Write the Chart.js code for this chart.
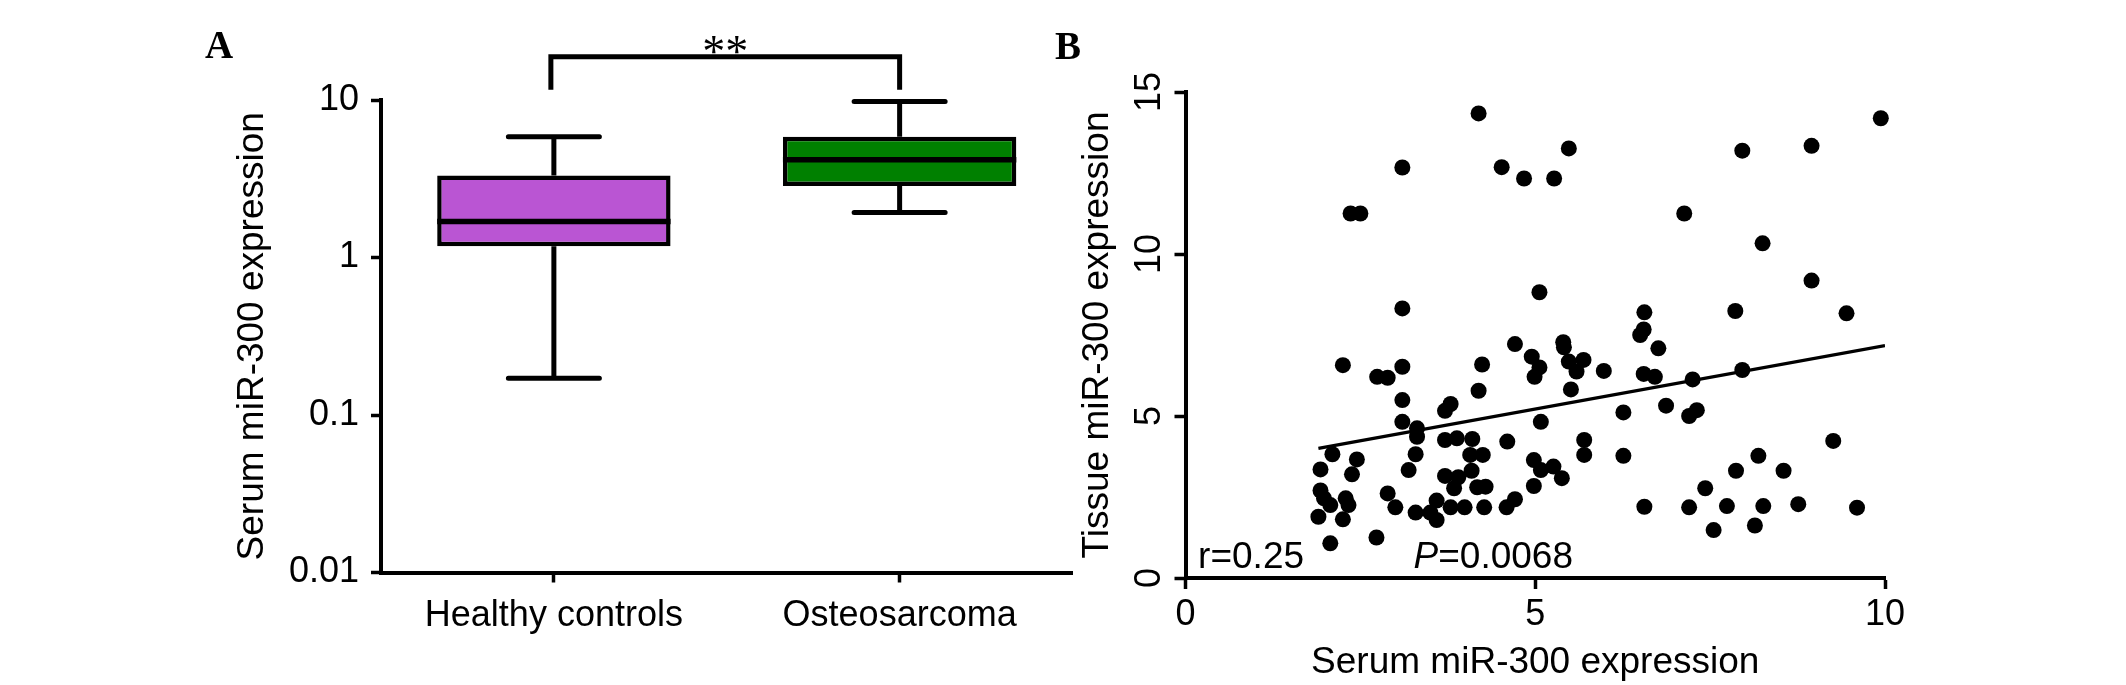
<!DOCTYPE html>
<html><head><meta charset="utf-8">
<script src="https://cdn.jsdelivr.net/npm/chart.js@4.4.1/dist/chart.umd.min.js"></script>
<style>
html,body{margin:0;padding:0;background:#fff;width:2126px;height:685px;overflow:hidden}
#wa{position:absolute;left:0;top:0;width:1100px;height:685px}
#wb{position:absolute;left:1040px;top:0;width:1086px;height:685px}
canvas{display:block}
</style></head><body>
<div id="wa"><canvas id="ca" width="1100" height="685"></canvas></div>
<div id="wb"><canvas id="cb" width="1086" height="685"></canvas></div>
<script>
// ---------- Panel A data (box plot, log scale) ----------
const groups = ['Healthy controls', 'Osteosarcoma'];
const whiskerLow  = [0.171, 1.93];
const boxLow      = [1.18, 2.84];
const medians     = [1.69, 4.18];
const boxHigh     = [3.32, 5.84];
const whiskerHigh = [5.85, 9.77];
const boxColors   = ['#BA55D3', '#008000'];
const logTicks      = [0.01, 0.1, 1, 10];
const logTickLabels = ['0.01', '0.1', '1', '10'];
const bracketLegLow = 11.6;
const bracketLevel  = 18.8;
const signifText    = '**';

// ---------- Panel B data (scatter) ----------
const serumX = [
  4.19,3.10,4.52,2.36,2.50,3.10,2.25,2.74,2.89,3.10,4.24,3.10,4.19,3.79,3.71,3.10,3.31,3.31,
  2.10,2.45,1.93,2.38,3.29,3.19,3.71,3.88,4.10,4.07,4.25,3.71,3.90,3.84,4.09,4.17,4.29,
  1.93,1.98,2.07,2.29,2.33,1.90,2.25,2.89,3.00,3.29,3.59,3.50,3.59,3.79,3.99,4.27,2.07,2.73,
  4.84,5.27,5.48,7.13,5.06,6.56,6.55,6.50,6.76,4.71,4.95,5.06,4.99,5.40,5.41,5.48,5.59,5.69,
  5.98,5.51,6.55,6.71,7.25,6.26,6.87,7.20,7.31,5.08,4.60,5.70,5.70,6.26,4.98,5.08,5.26,5.38,
  4.98,4.59,4.71,6.56,7.20,
  9.94,7.96,8.95,8.25,8.95,7.86,9.45,7.96,9.26,8.19,7.87,8.55,7.43,7.74,8.26,8.76,9.60,7.55,8.14
];
const tissueY = [
  14.34,12.67,12.68,11.25,11.25,8.32,6.57,6.21,6.18,6.52,6.59,5.49,5.78,5.37,5.16,4.82,4.62,4.36,
  3.82,3.66,3.35,3.20,3.82,3.33,4.26,4.31,4.29,3.80,3.80,3.15,3.11,2.77,3.31,2.80,2.82,
  2.70,2.46,2.25,2.46,2.25,1.89,1.81,2.61,2.18,2.02,2.39,2.02,1.79,2.18,2.18,2.18,1.07,1.25,
  12.33,12.33,13.26,11.25,8.82,8.20,7.67,7.50,7.09,7.22,6.83,6.50,6.21,7.28,7.12,6.68,6.37,6.73,
  6.39,5.82,6.30,6.21,6.13,5.11,5.32,5.00,5.18,4.82,4.21,4.26,3.80,3.77,3.64,3.33,3.44,3.08,
  2.84,2.18,2.43,2.20,2.18,
  14.19,13.19,13.34,10.33,9.18,8.24,8.17,6.42,4.23,3.77,3.31,3.31,2.77,2.22,2.22,2.28,2.17,1.48,1.62
];
const fitX = [1.9, 10];
const fitY = [4.0, 7.17];
const scatterTicksX = [0, 5, 10];
const scatterTicksY = [0, 5, 10, 15];
const statR = 'r=0.25';
const statPLetter = 'P';
const statPValue = '=0.0068';

const SANS = "'Liberation Sans', Arial, sans-serif";
const SERIF = "'Liberation Serif', 'Times New Roman', serif";

// ---------- Panel A plugin: whiskers, medians, bracket, letter ----------
const boxPlugin = {
  id: 'boxExtras',
  afterDatasetsDraw(chart) {
    const {ctx, scales: {x, y}} = chart;
    const meta = chart.getDatasetMeta(0);
    ctx.save();
    ctx.strokeStyle = '#000';
    ctx.lineCap = 'butt';
    groups.forEach((g, i) => {
      const cx = x.getPixelForValue(i);
      const half = meta.data[i].width / 2;
      const capHalf = half * 0.39;
      const yTop = y.getPixelForValue(boxHigh[i]);
      const yBot = y.getPixelForValue(boxLow[i]);
      const yWH = y.getPixelForValue(whiskerHigh[i]);
      const yWL = y.getPixelForValue(whiskerLow[i]);
      const yM = y.getPixelForValue(medians[i]);
      ctx.lineWidth = 5;
      ctx.beginPath();
      ctx.moveTo(cx, yTop); ctx.lineTo(cx, yWH);
      ctx.moveTo(cx, yBot); ctx.lineTo(cx, yWL);
      ctx.stroke();
      ctx.lineCap = 'round';
      ctx.beginPath();
      ctx.moveTo(cx - capHalf, yWH); ctx.lineTo(cx + capHalf, yWH);
      ctx.moveTo(cx - capHalf, yWL); ctx.lineTo(cx + capHalf, yWL);
      ctx.stroke();
      ctx.lineCap = 'butt';
      ctx.lineWidth = 5.5;
      ctx.beginPath();
      ctx.moveTo(cx - half, yM); ctx.lineTo(cx + half, yM);
      ctx.stroke();
    });
    // significance bracket
    const x0 = x.getPixelForValue(0) - 3, x1 = x.getPixelForValue(1);
    const yb = y.getPixelForValue(bracketLevel), yl = y.getPixelForValue(bracketLegLow);
    ctx.lineWidth = 5;
    ctx.lineJoin = 'miter';
    ctx.beginPath();
    ctx.moveTo(x0, yl); ctx.lineTo(x0, yb); ctx.lineTo(x1, yb); ctx.lineTo(x1, yl);
    ctx.stroke();
    ctx.fillStyle = '#000';
    ctx.font = '46px ' + SERIF;
    ctx.textAlign = 'center';
    ctx.textBaseline = 'alphabetic';
    ctx.fillText(signifText, (x0 + x1) / 2, yb + 10);
    // panel letter
    ctx.font = 'bold 39px ' + SERIF;
    ctx.textAlign = 'left';
    ctx.fillText('A', 205, 58);
    ctx.restore();
  }
};

new Chart(document.getElementById('ca'), {
  type: 'bar',
  data: {
    labels: groups,
    datasets: [{
      data: groups.map((g, i) => [boxLow[i], boxHigh[i]]),
      backgroundColor: boxColors,
      borderColor: '#000',
      borderWidth: 4.5,
      borderSkipped: false,
      barPercentage: 0.675,
      categoryPercentage: 1
    }]
  },
  options: {
    responsive: false, animation: false, devicePixelRatio: 1,
    events: [],
    layout: {padding: {left: 0, top: 100, right: 27.5, bottom: 0}},
    plugins: {legend: {display: false}, tooltip: {enabled: false}},
    scales: {
      x: {
        type: 'category', offset: true,
        grid: {display: true, offset: false, drawOnChartArea: false, drawTicks: true,
               tickLength: 10, tickWidth: 3.5, tickColor: '#000'},
        border: {display: true, color: '#000', width: 4},
        ticks: {color: '#000', font: {family: SANS, size: 36}, padding: 12, maxRotation: 0, minRotation: 0},
        afterFit(s) { s.height = 112.5; }
      },
      y: {
        type: 'logarithmic', min: 0.01, max: 10,
        afterBuildTicks(s) { s.ticks = logTicks.map(v => ({value: v})); },
        grid: {display: true, drawOnChartArea: false, drawTicks: true,
               tickLength: 10, tickWidth: 3.5, tickColor: '#000'},
        border: {display: true, color: '#000', width: 4},
        ticks: {
          color: '#000', font: {family: SANS, size: 36}, padding: 12,
          callback(v) {
            const i = logTicks.findIndex(t => Math.abs(Math.log10(t) - Math.log10(v)) < 1e-6);
            return i >= 0 ? logTickLabels[i] : '';
          }
        },
        title: {display: true, text: 'Serum miR-300 expression', color: '#000',
                font: {family: SANS, size: 37}, padding: {top: 231, bottom: 0}},
        afterFit(s) { s.width = 381; }
      }
    }
  },
  plugins: [boxPlugin]
});

// ---------- Panel B ----------
const scatterPlugin = {
  id: 'scatterExtras',
  afterDraw(chart) {
    const {ctx, scales: {x, y}} = chart;
    ctx.save();
    ctx.fillStyle = '#000';
    ctx.textBaseline = 'alphabetic';
    ctx.textAlign = 'left';
    const base = y.getPixelForValue(0) - 10;
    ctx.font = '37px ' + SANS;
    ctx.fillText(statR, x.getPixelForValue(0.18), base);
    const px = x.getPixelForValue(3.26);
    ctx.font = 'italic 37px ' + SANS;
    ctx.fillText(statPLetter, px, base);
    const w = ctx.measureText(statPLetter).width;
    ctx.font = '37px ' + SANS;
    ctx.fillText(statPValue, px + w, base);
    ctx.font = 'bold 39px ' + SERIF;
    ctx.fillText('B', 15, 59);
    ctx.restore();
  }
};

new Chart(document.getElementById('cb'), {
  type: 'scatter',
  data: {
    datasets: [
      {
        type: 'line',
        data: fitX.map((v, i) => ({x: v, y: fitY[i]})),
        borderColor: '#000', borderWidth: 3.2, pointRadius: 0, fill: false, tension: 0
      },
      {
        data: serumX.map((v, i) => ({x: v, y: tissueY[i]})),
        backgroundColor: '#000', borderColor: '#000', borderWidth: 0,
        pointRadius: 8, pointHoverRadius: 8, clip: false
      }
    ]
  },
  options: {
    responsive: false, animation: false, devicePixelRatio: 1,
    events: [],
    layout: {padding: {left: 0, top: 92, right: 241, bottom: 0}},
    plugins: {legend: {display: false}, tooltip: {enabled: false}},
    scales: {
      x: {
        type: 'linear', min: 0, max: 10,
        afterBuildTicks(s) { s.ticks = scatterTicksX.map(v => ({value: v})); },
        grid: {display: true, drawOnChartArea: false, drawTicks: true,
               tickLength: 11, tickWidth: 3.5, tickColor: '#000'},
        border: {display: true, color: '#000', width: 4},
        ticks: {color: '#000', font: {family: SANS, size: 36}, padding: 4.5, maxRotation: 0, minRotation: 0},
        title: {display: true, text: 'Serum miR-300 expression', color: '#000',
                font: {family: SANS, size: 37}, padding: {top: 0, bottom: 0}},
        afterFit(s) { s.height = 107; }
      },
      y: {
        type: 'linear', min: 0, max: 15,
        afterBuildTicks(s) { s.ticks = scatterTicksY.map(v => ({value: v})); },
        grid: {display: true, drawOnChartArea: false, drawTicks: true,
               tickLength: 11, tickWidth: 3.5, tickColor: '#000'},
        border: {display: true, color: '#000', width: 4},
        ticks: {color: '#000', font: {family: SANS, size: 36}, padding: 4.5,
                minRotation: 90, maxRotation: 90, crossAlign: 'center'},
        title: {display: true, text: 'Tissue miR-300 expression', color: '#000',
                font: {family: SANS, size: 37}, padding: {top: 35.8, bottom: 0}},
        afterFit(s) { s.width = 145.5; }
      }
    }
  },
  plugins: [scatterPlugin]
});
</script>
</body></html>
